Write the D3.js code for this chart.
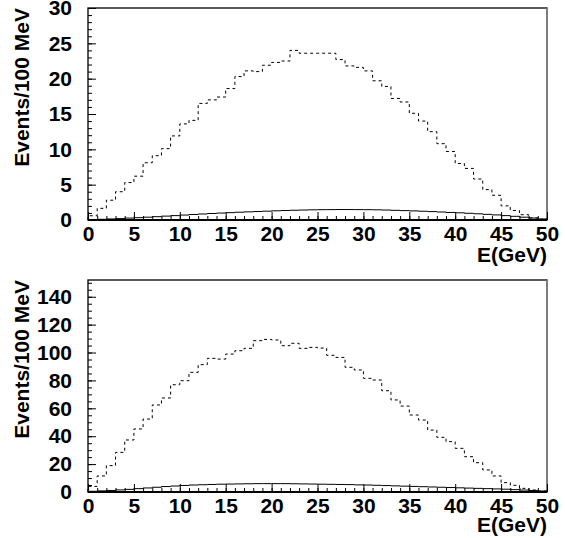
<!DOCTYPE html>
<html>
<head>
<meta charset="utf-8">
<script src="https://cdn.jsdelivr.net/npm/d3@7"></script>
<style>
body { margin: 0; background: #fff; }
svg text { font-family: "Liberation Sans", Arial, sans-serif; font-weight: bold; fill: #000; }
</style>
</head>
<body>
<div id="chart"></div>
<script>
// 1 GeV bins from 0 to 50
const binEdges = d3.range(0, 51);
const xMajor = [0, 5, 10, 15, 20, 25, 30, 35, 40, 45, 50];

// upper plot
const topDashed = [0.6, 1.65, 2.8, 4.0, 5.3, 6.2, 8.1, 9.1, 10.1, 11.9,
	13.6, 14.1, 16.5, 17.0, 17.4, 18.6, 20.3, 21.1, 21.0, 21.9,
	22.3, 22.5, 24.0, 23.6, 23.6, 23.6, 23.6, 22.7, 21.8, 21.6,
	21.1, 19.7, 18.9, 17.2, 16.7, 15.1, 14.0, 12.5, 10.8, 9.7,
	8.0, 7.3, 5.8, 4.3, 3.5, 2.0, 1.35, 0.75, 0.3, 0.1];
const topSolid = [0.05, 0.1, 0.15, 0.2, 0.27, 0.33, 0.4, 0.47, 0.55, 0.62,
	0.7, 0.78, 0.85, 0.92, 0.98, 1.04, 1.1, 1.15, 1.2, 1.25,
	1.3, 1.34, 1.38, 1.41, 1.44, 1.46, 1.47, 1.48, 1.48, 1.47,
	1.46, 1.44, 1.41, 1.37, 1.33, 1.29, 1.24, 1.19, 1.13, 1.07,
	1.02, 0.95, 0.88, 0.8, 0.72, 0.62, 0.52, 0.4, 0.28, 0.15];
const topYTicks = [0, 5, 10, 15, 20, 25, 30];

// lower plot
const botDashed = [4, 11.5, 18.9, 28.4, 37.3, 45.2, 52.3, 62.4, 67.4, 76.9,
	79.8, 85.8, 91.3, 95.8, 95.3, 98.9, 101.3, 103, 108.5, 109.4,
	109, 104.9, 106.6, 103, 103.7, 103.2, 98.0, 96.5, 89.4, 87.5,
	81.5, 80.3, 72.6, 66.0, 61.6, 55.2, 51.6, 44.4, 39.2, 36.1,
	31.3, 25.3, 21.0, 15.8, 11.5, 6.7, 4.8, 2.6, 1.4, 0.7];
const botSolid = [0.5, 0.8, 1.1, 1.5, 1.9, 2.4, 2.9, 3.4, 3.9, 4.3,
	4.7, 5.0, 5.2, 5.4, 5.6, 5.7, 5.8, 5.9, 6.0, 6.0,
	6.0, 6.0, 5.9, 5.8, 5.7, 5.6, 5.5, 5.4, 5.3, 5.1,
	5.0, 4.8, 4.6, 4.4, 4.2, 4.0, 3.8, 3.6, 3.4, 3.2,
	3.0, 2.8, 2.6, 2.4, 2.2, 2.0, 1.7, 1.4, 1.1, 0.7];
const botYTicks = [0, 20, 40, 60, 80, 100, 120, 140];

const xTitle = "E(GeV)";
const yTitle = "Events/100 MeV";

var width = 565, height = 538, fontSize = 21;
var svg = d3.select("#chart").append("svg")
	.attr("width", width)
	.attr("height", height);

var xScale = d3.scaleLinear().domain([0, 50]).range([88, 547]);

var panels = [
	{ top: 8, bottom: 220, ymax: 30, yTicks: topYTicks, minorStep: 1, dashed: topDashed, solid: topSolid, titleDy: 42 },
	{ top: 280, bottom: 492, ymax: 152, yTicks: botYTicks, minorStep: 5, dashed: botDashed, solid: botSolid, titleDy: 40 }
];

// turns bin contents into [edge, value] points for a step path
function histPoints(values) {
	var pts = [[binEdges[0], 0]];
	values.forEach(function(v, i) { pts.push([binEdges[i], v]); });
	pts.push([binEdges[binEdges.length - 1], values[values.length - 1]]);
	pts.push([binEdges[binEdges.length - 1], 0]);
	return pts;
}

panels.forEach(function(p) {
	var yScale = d3.scaleLinear().domain([0, p.ymax]).range([p.bottom, p.top]);
	var g = svg.append("g");
	var line = d3.line().curve(d3.curveStepAfter)
		.x(function(d) { return xScale(d[0]); })
		.y(function(d) { return yScale(d[1]); });

	// frame
	g.append("rect")
		.attr("x", xScale(0)).attr("y", p.top)
		.attr("width", xScale(50) - xScale(0)).attr("height", p.bottom - p.top)
		.attr("fill", "none").attr("stroke", "#000").attr("stroke-width", 1.3);
	g.append("line")
		.attr("x1", xScale(50)).attr("x2", xScale(50))
		.attr("y1", p.top).attr("y2", p.bottom)
		.attr("stroke", "#888").attr("stroke-width", 1.5);

	// histograms
	g.append("path").attr("d", line(histPoints(p.solid)))
		.attr("fill", "none").attr("stroke", "#000").attr("stroke-width", 1);
	g.append("path").attr("d", line(histPoints(p.dashed)))
		.attr("fill", "none").attr("stroke", "#000").attr("stroke-width", 1)
		.attr("stroke-dasharray", "3,3");

	// x ticks pointing into the frame
	g.append("g").attr("transform", "translate(0," + p.bottom + ")")
		.call(d3.axisTop(xScale).tickValues(binEdges).tickSize(4).tickFormat(""))
		.call(function(a) { a.select(".domain").remove(); });
	g.append("g").attr("transform", "translate(0," + p.bottom + ")")
		.call(d3.axisTop(xScale).tickValues(xMajor).tickSize(8).tickFormat(""))
		.call(function(a) { a.select(".domain").remove(); });
	g.append("g").attr("transform", "translate(0," + p.bottom + ")")
		.call(d3.axisBottom(xScale).tickValues(xMajor).tickSize(0).tickPadding(6).tickFormat(d3.format("d")))
		.call(function(a) { a.select(".domain").remove(); })
		.attr("font-size", fontSize).attr("font-family", null);
	g.append("line")
		.attr("x1", xScale(0)).attr("x2", xScale(50))
		.attr("y1", p.bottom).attr("y2", p.bottom)
		.attr("stroke", "#000").attr("stroke-width", 2);

	// y ticks pointing into the frame
	var minor = d3.range(0, p.ymax + 0.001, p.minorStep);
	g.append("g").attr("transform", "translate(" + xScale(0) + ",0)")
		.call(d3.axisRight(yScale).tickValues(minor).tickSize(4).tickFormat(""))
		.call(function(a) { a.select(".domain").remove(); });
	g.append("g").attr("transform", "translate(" + xScale(0) + ",0)")
		.call(d3.axisRight(yScale).tickValues(p.yTicks).tickSize(8).tickFormat(""))
		.call(function(a) { a.select(".domain").remove(); });
	g.append("g").attr("transform", "translate(" + xScale(0) + ",0)")
		.call(d3.axisLeft(yScale).tickValues(p.yTicks).tickSize(0).tickPadding(16).tickFormat(d3.format("d")))
		.call(function(a) { a.select(".domain").remove(); })
		.attr("font-size", fontSize).attr("font-family", null);

	// titles
	g.append("text").attr("x", xScale(50)).attr("y", p.bottom + p.titleDy)
		.attr("text-anchor", "end").attr("font-size", fontSize).text(xTitle);
	g.append("text")
		.attr("transform", "translate(29," + p.top + ") rotate(-90)")
		.attr("text-anchor", "end").attr("font-size", fontSize).text(yTitle);
});
</script>
</body>
</html>
